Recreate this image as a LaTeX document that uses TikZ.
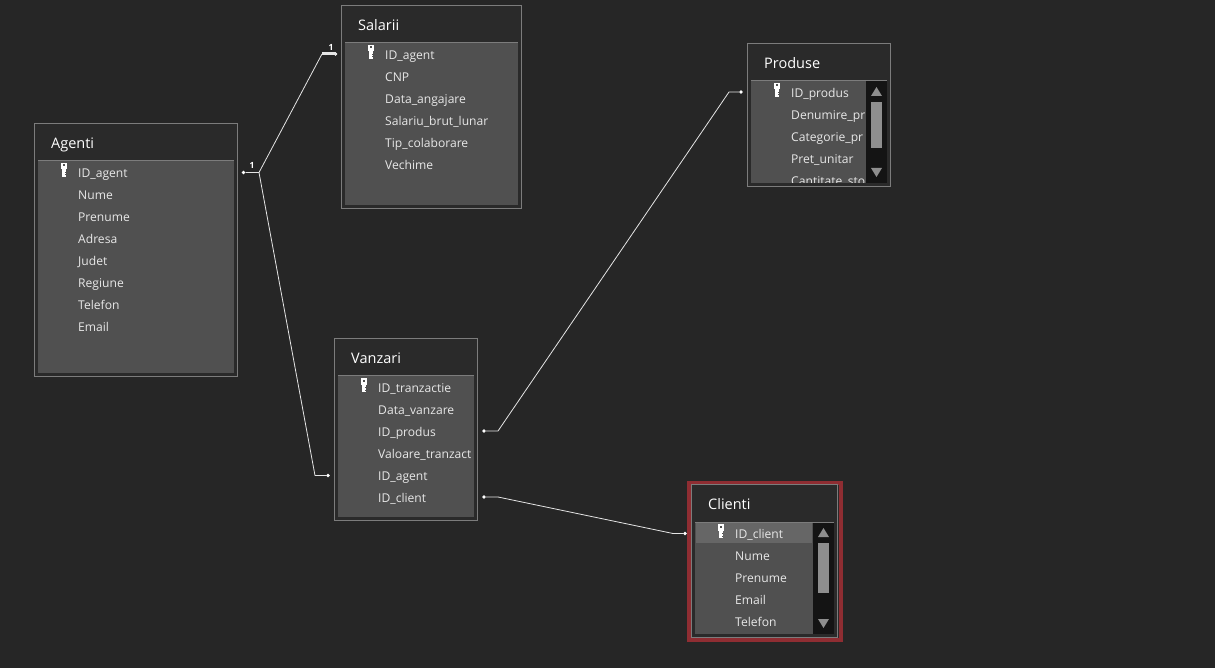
\documentclass[tikz,border=0pt]{standalone}
\usepackage{fontspec}
\setmainfont{Open Sans}
\definecolor{canvasbg}{HTML}{262626}
\definecolor{boxbg}{HTML}{2A2A2A}
\definecolor{boxline}{HTML}{7C7C7C}
\definecolor{listbg}{HTML}{505050}
\definecolor{rowbg}{HTML}{666666}
\definecolor{fieldtxt}{HTML}{E8E8E8}
\definecolor{scrollbg}{HTML}{141414}
\definecolor{thumbbg}{HTML}{8E8E8E}
\definecolor{framered}{HTML}{8F2D32}
\tikzset{
	tablebox/.style={draw=boxline, fill=boxbg, line width=1pt, anchor=north west, inner sep=0pt, outer sep=0pt},
	listbox/.style={fill=listbg, anchor=north west, inner sep=0pt, outer sep=0pt},
	tabletitle/.style={anchor=base west, inner sep=0pt, text=white, font=\fontsize{14.5}{16}\selectfont},
	fieldname/.style={anchor=base west, inner sep=0pt, text=fieldtxt, font=\fontsize{12.1}{14}\selectfont},
	linkdot/.style={circle, fill=white, inner sep=0pt, minimum size=3.6pt},
	linkline/.style={draw=white!90!black, line width=0.8pt},
	cardlabel/.style={inner sep=0pt, text=white, font=\fontsize{8.5}{9}\selectfont\bfseries},
	keyicon/.pic={
		\fill[white] (-3.2,-9) rectangle (3.2,-2.5);
		\fill[white] (-2,-2.5) rectangle (2,4.7);
		\fill[listbg] (-1,-7.5) rectangle (0.5,-5.5);
		\fill[listbg] (0.5,0) rectangle (2,1);
		\fill[listbg] (0.5,2.5) rectangle (2,3.5);
	}
}
\begin{document}
\begin{tikzpicture}[x=1pt, y=-1pt]
	\fill[canvasbg] (0,0) rectangle (1215,668);
	\useasboundingbox (0,0) rectangle (1215,668);

	% Agenti
	\node[tablebox, minimum width=203pt, minimum height=253pt] (agenti) at (34.5,123.5) {};
	\node[listbox, minimum width=196pt, minimum height=213pt] (agentiList) at (38,160) {};
	\draw[boxline] (38,160) -- (234,160);
	\node[tabletitle] (agentiTitle) at (51,149) {Agenti};
	\pic at (64,172) {keyicon};
	\foreach \f [count=\i] in {ID\_agent, Nume, Prenume, Adresa, Judet, Regiune, Telefon, Email}
		\node[fieldname] (agenti\i) at (78,{172+22*(\i-1)+5.5}) {\f};

	% Salarii
	\node[tablebox, minimum width=180pt, minimum height=203pt] (salarii) at (341.5,5.5) {};
	\node[listbox, minimum width=173pt, minimum height=163pt] (salariiList) at (345,42) {};
	\draw[boxline] (345,42) -- (518,42);
	\node[tabletitle] (salariiTitle) at (358,31) {Salarii};
	\pic at (371,54) {keyicon};
	\foreach \f [count=\i] in {ID\_agent, CNP, Data\_angajare, Salariu\_brut\_lunar, Tip\_colaborare, Vechime}
		\node[fieldname] (salarii\i) at (385,{54+22*(\i-1)+5.5}) {\f};

	% Vanzari
	\node[tablebox, minimum width=143pt, minimum height=182pt] (vanzari) at (334.5,338.5) {};
	\node[listbox, minimum width=136pt, minimum height=142pt] (vanzariList) at (338,375) {};
	\draw[boxline] (338,375) -- (474,375);
	\node[tabletitle] (vanzariTitle) at (351,363) {Vanzari};
	\pic at (364,387) {keyicon};
	\foreach \f [count=\i] in {ID\_tranzactie, Data\_vanzare, ID\_produs, Valoare\_tranzact, ID\_agent, ID\_client}
		\node[fieldname] (vanzari\i) at (378,{387+22*(\i-1)+5.5}) {\f};

	% Produse
	\node[tablebox, minimum width=143pt, minimum height=143pt] (produse) at (747.5,43.5) {};
	\node[listbox, minimum width=115pt, minimum height=103pt] (produseList) at (751,80) {};
	\draw[boxline] (751,80) -- (887,80);
	\node[tabletitle] (produseTitle) at (764,69) {Produse};
	\pic at (777,92) {keyicon};
	\begin{scope}
		\clip (751,80) rectangle (866,183);
		\foreach \f [count=\i] in {ID\_produs, Denumire\_pr, Categorie\_pr, Pret\_unitar, Cantitate\_sto}
			\node[fieldname] (produse\i) at (791,{92+22*(\i-1)+5.5}) {\f};
	\end{scope}
	\fill[scrollbg] (866,81) rectangle (887,183);
	\fill[thumbbg] (871,102) rectangle (882,148);
	\fill[thumbbg] (871,96) -- (876.5,87) -- (882,96) -- cycle;
	\fill[thumbbg] (871,168) -- (876.5,177) -- (882,168) -- cycle;

	% Clienti
	\node[tablebox, draw=framered, line width=4pt, minimum width=151.4pt, minimum height=157.6pt] (clientiFrame) at (689.3,482.7) {};
	\node[tablebox, fill=none, minimum width=145.7pt, minimum height=152.7pt] (clienti) at (691.8,484.8) {};
	\node[listbox, minimum width=118pt, minimum height=112pt] (clientiList) at (695,522) {};
	\fill[rowbg] (696,523) rectangle (812,543);
	\draw[boxline] (695,522) -- (834,522);
	\node[tabletitle] (clientiTitle) at (708,509) {Clienti};
	\pic at (721,533) {keyicon};
	\foreach \f [count=\i] in {ID\_client, Nume, Prenume, Email, Telefon}
		\node[fieldname] (clienti\i) at (735,{533+22*(\i-1)+5.5}) {\f};
	\fill[scrollbg] (813,523) rectangle (834,634);
	\fill[thumbbg] (818,543) rectangle (829,593);
	\fill[thumbbg] (818,537) -- (823.5,528) -- (829,537) -- cycle;
	\fill[thumbbg] (818,619) -- (823.5,628) -- (829,619) -- cycle;

	% links
	\node[linkdot] (agentiOut) at (243.5,172.5) {};
	\node[linkdot] (salariiIn) at (335.5,54) {};
	\node[linkdot] (vanzariIn) at (328,475.5) {};
	\node[linkdot] (produsOut) at (484,431) {};
	\node[linkdot] (produsIn) at (741,92) {};
	\node[linkdot] (clientOut) at (484,497) {};
	\node[linkdot] (clientIn) at (685,533.5) {};
	\coordinate (agentiBend) at (259,172.5);
	\coordinate (salariiBend) at (322,54);
	\coordinate (vanzariBend) at (315,475.5);
	\coordinate (produsBendA) at (498,431);
	\coordinate (produsBendB) at (729,92);
	\coordinate (clientBendA) at (498,497);
	\coordinate (clientBendB) at (673,533.5);

	\draw[linkline] (agentiOut) -- (agentiBend) -- (salariiBend);
	\draw[linkline, line width=3pt] (salariiBend) -- (salariiIn.center);
	\draw[linkline] (agentiBend) -- (vanzariBend) -- (vanzariIn);
	\draw[linkline] (produsOut) -- (produsBendA) -- (produsBendB) -- (produsIn);
	\draw[linkline] (clientOut) -- (clientBendA) -- (clientBendB) -- (clientIn);

	\node[cardlabel] (agentiCard) at (252,165) {1};
	\node[cardlabel] (salariiCard) at (331,47) {1};
\end{tikzpicture}
\end{document}
